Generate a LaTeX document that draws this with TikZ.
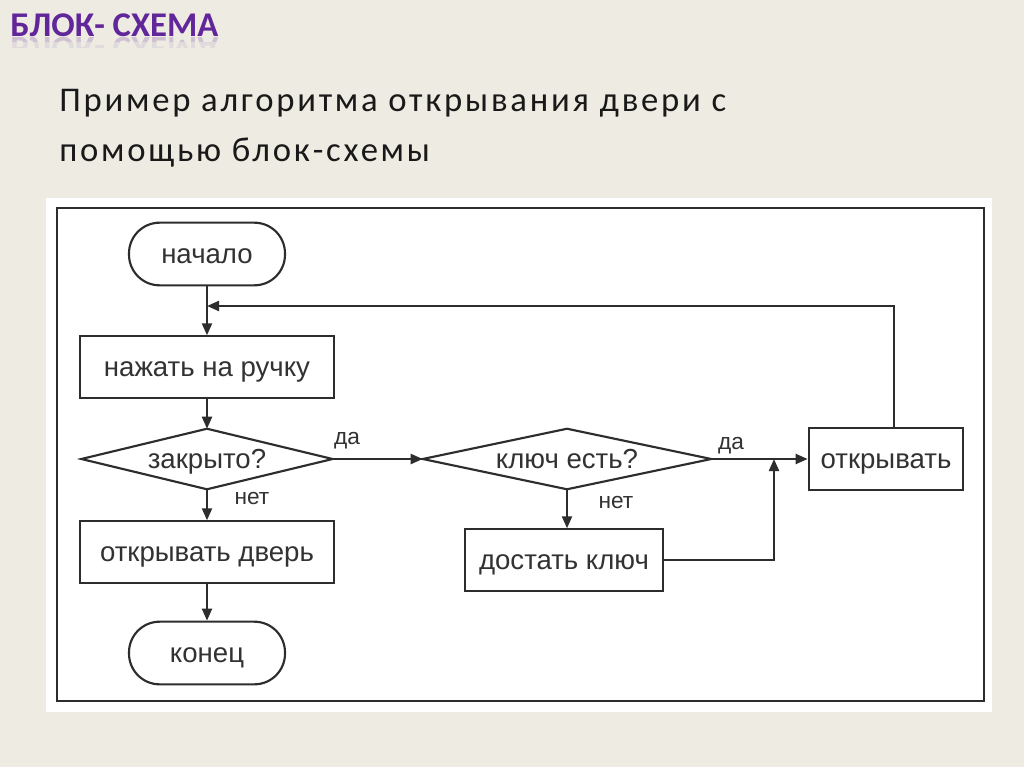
\documentclass[tikz,border=0pt]{standalone}
\usepackage{fontspec}
\setmainfont{Liberation Sans}
\newfontfamily\calib{Carlito}
\newfontfamily\calibsp[LetterSpace=8]{Carlito}
\usetikzlibrary{arrows.meta}
\definecolor{bg}{RGB}{238,236,226}
\definecolor{ttl}{RGB}{98,38,155}
\definecolor{lnc}{RGB}{45,45,45}
\definecolor{txc}{RGB}{50,50,50}
\definecolor{subc}{RGB}{25,25,25}
\newcommand{\mainfs}{\fontsize{20.7}{24}\selectfont}
\newcommand{\lblfs}{\fontsize{17}{20}\selectfont}
\newcommand{\ttlfs}{\calib\bfseries\fontsize{26}{30}\selectfont}
\begin{document}
\begin{tikzpicture}[x=0.75pt,y=-0.75pt,
  ln/.style={draw=lnc,line width=1.6pt},
  arr/.style={ln,-{Triangle[length=9pt,width=7.5pt]}},
  term/.style={ln,rectangle,rounded corners=23pt,minimum width=117pt,minimum height=47pt,inner sep=0pt,text=txc,font=\mainfs,text height=14pt,text depth=0pt},
  proc/.style={ln,rectangle,minimum height=46pt,inner sep=0pt,text=txc,font=\mainfs,text height=14pt,text depth=0pt},
  dec/.style={rectangle,minimum height=45pt,inner sep=0pt,text=txc,font=\mainfs,text height=14pt,text depth=0pt},
  lbl/.style={text=txc,font=\lblfs,inner sep=0pt}]
\fill[bg] (0,0) rectangle (1024,767);
\useasboundingbox (0,0) rectangle (1024,767);
% title with reflection
\node[anchor=base west,inner sep=0pt,text=ttl,font=\ttlfs] (title) at (10,37) {БЛОК- СХЕМА};
\begin{scope}
\clip (0,38) rectangle (300,43);
\node[anchor=base west,inner sep=0pt,text=ttl!22!bg,font=\ttlfs] (refla) at (10,38) {\scalebox{1}[-1]{БЛОК- СХЕМА}};
\end{scope}
\begin{scope}
\clip (0,43) rectangle (300,48);
\node[anchor=base west,inner sep=0pt,text=ttl!9!bg,font=\ttlfs] (reflb) at (10,38) {\scalebox{1}[-1]{БЛОК- СХЕМА}};
\end{scope}
% subtitle
\node[anchor=base west,inner sep=0pt,text=subc,font=\calibsp\fontsize{26}{30}\selectfont] (sub1) at (59,112) {Пример алгоритма открывания двери с};
\node[anchor=base west,inner sep=0pt,text=subc,font=\calibsp\fontsize{26}{30}\selectfont] (sub2) at (59,161) {помощью блок-схемы};
% picture area
\fill[white] (46,198) rectangle (992,712);
\draw[draw=lnc,line width=2pt] (57,208) rectangle (984,701);
% nodes
\node[term] (start) at (207,254) {начало};
\node[proc,minimum width=190pt] (press) at (207,367) {нажать на ручку};
\node[dec,minimum width=188pt] (closed) at (207,459) {закрыто?};
\draw[ln] (closed.north)--(closed.east)--(closed.south)--(closed.west)--cycle;
\node[proc,minimum width=190pt] (opendoor) at (207,552) {открывать дверь};
\node[term] (end) at (207,653) {конец};
\node[dec,minimum width=216pt] (key) at (567,459) {ключ есть?};
\draw[ln] (key.north)--(key.east)--(key.south)--(key.west)--cycle;
\node[proc,minimum width=148pt] (getkey) at (564,560) {достать ключ};
\node[proc,minimum width=116pt] (open) at (886,459) {открывать};
\coordinate (j1) at (207,306);
\coordinate (j2) at (774,459);
% connectors
\draw[arr] (start.south) -- (press.north);
\draw[arr] ([xshift=6pt]open.north) |- (j1);
\draw[arr] (press.south) -- (closed.north);
\draw[arr] (closed.east) -- (key.west);
\draw[arr] (closed.south) -- (opendoor.north);
\draw[arr] (opendoor.south) -- (end.north);
\draw[arr] (key.east) -- (open.west);
\draw[arr] (key.south) -- (key.south |- getkey.north);
\draw[arr] (getkey.east) -| (j2);
% labels
\node[lbl] (l1) at (347,441) {да};
\node[lbl] (l2) at (252,499) {нет};
\node[lbl] (l3) at (731,446) {да};
\node[lbl] (l4) at (616,503) {нет};
\end{tikzpicture}
\end{document}
